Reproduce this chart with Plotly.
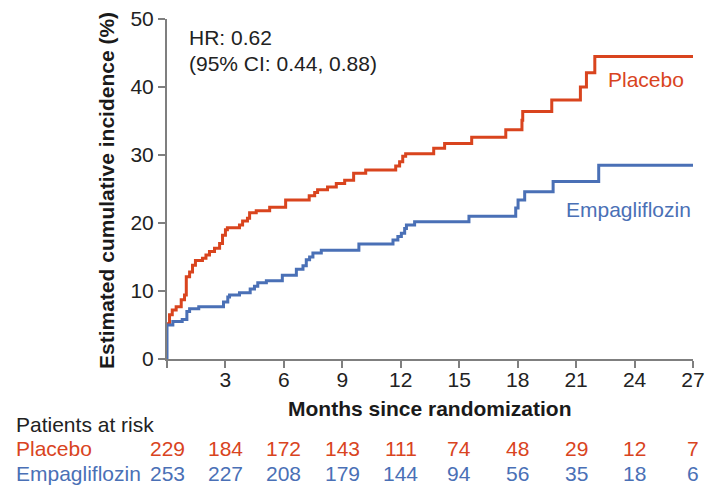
import plotly.graph_objects as go

# ── data ──────────────────────────────────────────────────────────────────────
placebo_months = [0, 0.13, 0.27, 0.47, 0.73, 0.9, 0.99, 1.16, 1.31, 1.46, 1.82,
                  2.0, 2.18, 2.44, 2.7, 2.85, 3.0, 3.1, 3.72, 3.88, 4.13, 4.24,
                  4.58, 5.27, 6.09, 7.3, 7.58, 7.73, 8.24, 8.69, 9.12, 9.58,
                  10.2, 11.74, 11.94, 12.1, 12.25, 13.69, 14.25, 15.64, 17.39,
                  18.22, 18.26, 19.75, 21.22, 21.53, 21.96, 27]
placebo_pct = [5.2, 6.5, 7.2, 7.7, 8.7, 9.4, 12.1, 12.8, 13.8, 14.5, 14.8,
               15.3, 15.8, 16.3, 17.0, 18.2, 19.0, 19.3, 19.7, 20.3, 20.7, 21.5,
               21.8, 22.3, 23.4, 24.0, 24.5, 24.9, 25.3, 25.8, 26.3, 27.3,
               27.8, 28.4, 29.0, 29.8, 30.2, 31.0, 31.7, 32.6, 33.7,
               35.1, 36.4, 38.1, 40.0, 42.1, 44.5, 44.5]

empa_months = [0, 0, 0.3, 0.78, 1.02, 1.16, 1.63, 2.9, 3.12, 3.21, 3.72, 4.27,
               4.49, 4.66, 5.1, 5.92, 6.64, 6.98, 7.15, 7.32, 7.49, 7.92, 9.85,
               11.6, 11.85, 12.03, 12.2, 12.29, 12.71, 15.5, 17.9, 18.02, 18.36,
               19.82, 22.16, 27]
empa_pct = [0, 5.0, 5.5, 5.8, 7.0, 7.4, 7.7, 8.4, 9.1, 9.4, 9.75, 10.3,
            10.7, 11.2, 11.5, 12.3, 13.2, 13.7, 14.6, 15.0, 15.6, 16.0, 16.9,
            17.5, 18.0, 18.5, 19.2, 19.7, 20.2, 21.0, 22.2, 23.4, 24.6,
            26.1, 28.5, 28.5]

risk_months = [0, 3, 6, 9, 12, 15, 18, 21, 24, 27]
risk_placebo = [229, 184, 172, 143, 111, 74, 48, 29, 12, 7]
risk_empa = [253, 227, 208, 179, 144, 94, 56, 35, 18, 6]

x_ticks = [0, 3, 6, 9, 12, 15, 18, 21, 24, 27]
x_ticktext = ["", "3", "6", "9", "12", "15", "18", "21", "24", "27"]
y_ticks = [0, 10, 20, 30, 40, 50]

RED = "#D9441E"
BLUE = "#4A70B6"
FONT = "Arial, Liberation Sans, sans-serif"
FS = 21

fig = go.Figure()

fig.add_trace(go.Scatter(
    x=placebo_months, y=placebo_pct, mode="lines", line_shape="hv",
    line=dict(color=RED, width=3), name="Placebo", showlegend=False,
))
fig.add_trace(go.Scatter(
    x=empa_months, y=empa_pct, mode="lines", line_shape="hv",
    line=dict(color=BLUE, width=3), name="Empagliflozin", showlegend=False,
))


def note(text, x, y, xanchor, xshift, yshift, color="#222", xref="paper", **kw):
    return dict(text=text, xref=xref, yref="paper", x=x, y=y,
                xanchor=xanchor, yanchor="middle", xshift=xshift, yshift=yshift,
                showarrow=False, font=dict(size=FS, color=color), **kw)


ann = [
    # hazard ratio text
    note("HR: 0.62", 0, 1, "left", 20, -18),
    note("(95% CI: 0.44, 0.88)", 0, 1, "left", 20, -44),
    # curve labels
    note("Placebo", 1, 1, "right", -7, -60, RED),
    note("Empagliflozin", 1, 1, "right", 0, -190, BLUE),
    # axis titles
    note("<b>Months since randomization</b>", 0.5, 0, "center", 0, -49, "#1a1a1a"),
    note("<b>Estimated cumulative incidence (%)</b>", 0, 0.5, "center", -61, -2,
         "#1a1a1a", textangle=-90),
    # risk table
    note("Patients at risk", 0, 0, "left", -153, -65),
    note("Placebo", 0, 0, "left", -153, -89, RED),
    note("Empagliflozin", 0, 0, "left", -153, -114, BLUE),
]
for m, p, e in zip(risk_months, risk_placebo, risk_empa):
    ann.append(note(str(p), m, 0, "center", 0, -89, RED, xref="x"))
    ann.append(note(str(e), m, 0, "center", 0, -114, BLUE, xref="x"))

fig.update_layout(
    width=705, height=490,
    margin=dict(l=167, r=12, t=19, b=131, autoexpand=False),
    paper_bgcolor="white", plot_bgcolor="white",
    font=dict(family=FONT, size=FS, color="#222"),
    xaxis=dict(
        range=[0, 27], tickvals=x_ticks, ticktext=x_ticktext,
        showline=True, linecolor="#7f7f7f", linewidth=2,
        ticks="outside", ticklen=7, tickwidth=2, tickcolor="#7f7f7f",
        ticklabelstandoff=-6, ticklabeloverflow="allow", automargin=False,
        showgrid=False, zeroline=False, fixedrange=True,
    ),
    yaxis=dict(
        range=[0, 50], tickvals=y_ticks,
        showline=True, linecolor="#7f7f7f", linewidth=2,
        ticks="outside", ticklen=7, tickwidth=2, tickcolor="#7f7f7f",
        ticklabeloverflow="allow", automargin=False,
        showgrid=False, zeroline=False, fixedrange=True,
    ),
    annotations=ann,
    showlegend=False,
)

# drop the default page margin so the 705x490 figure fills the window exactly
fig.write_html(
    "out.html",
    config={"displayModeBar": False},
    post_script="document.body.style.margin = '0';",
)
